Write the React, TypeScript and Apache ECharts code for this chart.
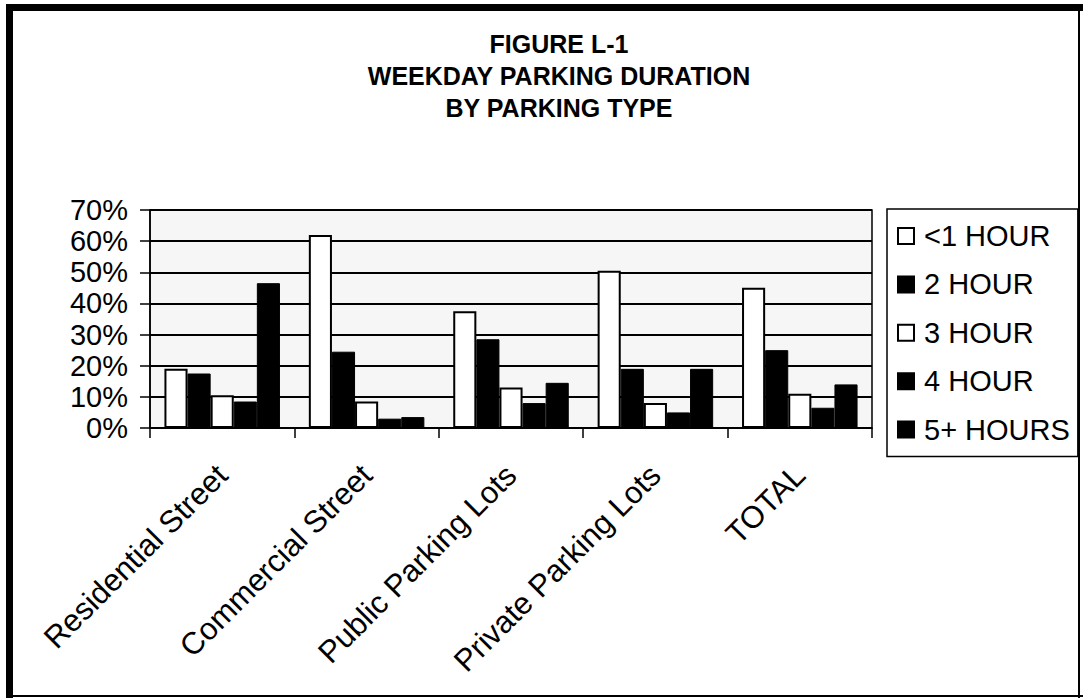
import React, { useEffect, useRef } from 'react';
import * as echarts from 'echarts';

const categories = ['Residential Street', 'Commercial Street', 'Public Parking Lots', 'Private Parking Lots', 'TOTAL'];
const seriesNames = ['<1 HOUR', '2 HOUR', '3 HOUR', '4 HOUR', '5+ HOURS'];
const lessThanOneHour = [19, 62, 37.5, 50.5, 45];
const twoHour = [17.5, 24.5, 28.5, 19, 25];
const threeHour = [10.5, 8.5, 13, 8, 11];
const fourHour = [8.5, 3, 8, 5, 6.5];
const fivePlusHours = [46.5, 3.5, 14.5, 19, 14];
const titleLines = ['FIGURE L-1', 'WEEKDAY PARKING DURATION', 'BY PARKING TYPE'];

const FONT = '"Liberation Sans", Arial, sans-serif';

export default function App() {
  const ref = useRef<HTMLDivElement>(null);
  useEffect(() => {
    if (!ref.current) return;
    const chart = echarts.init(ref.current, undefined, { renderer: 'svg' });
    const values = [lessThanOneHour, twoHour, threeHour, fourHour, fivePlusHours];
    const white = [true, false, true, false, false];
    chart.setOption({
      animation: false,
      backgroundColor: '#fff',
      textStyle: { fontFamily: FONT },
      title: {
        text: titleLines.join('\n'),
        left: 554,
        top: 23,
        textAlign: 'center',
        textStyle: { fontFamily: FONT, fontSize: 25, fontWeight: 'bold', color: '#000', lineHeight: 32 },
      },
      legend: {
        orient: 'vertical',
        left: 887,
        top: 209,
        padding: [12, 8, 12, 10],
        itemGap: 18.4,
        itemWidth: 16,
        itemHeight: 16,
        icon: 'rect',
        selectedMode: false,
        backgroundColor: '#fff',
        borderColor: '#000',
        borderWidth: 1.5,
        borderRadius: 0,
        textStyle: { fontFamily: FONT, fontSize: 29, color: '#000', lineHeight: 30, padding: [0, 0, 0, 5] },
        data: seriesNames,
      },
      grid: {
        left: 150,
        top: 210,
        right: 211,
        bottom: 270,
        show: true,
        backgroundColor: '#f6f6f6',
        borderColor: '#000',
        borderWidth: 1.5,
      },
      xAxis: {
        type: 'category',
        data: categories,
        axisLine: { show: true, lineStyle: { color: '#000', width: 1.5 } },
        axisTick: { show: true, length: 10, lineStyle: { color: '#000', width: 1.5 } },
        axisLabel: {
          rotate: 45,
          interval: 0,
          margin: 42,
          fontFamily: FONT,
          fontSize: 31,
          color: '#000',
        },
      },
      yAxis: {
        type: 'value',
        min: 0,
        max: 70,
        interval: 10,
        axisLine: { show: true, lineStyle: { color: '#000', width: 1.5 } },
        axisTick: { show: true, length: 10, lineStyle: { color: '#000', width: 1.5 } },
        axisLabel: { formatter: '{value}%', fontFamily: FONT, fontSize: 29, color: '#000', margin: 22 },
        splitLine: { show: true, lineStyle: { color: '#000', width: 1.8 } },
      },
      series: seriesNames.map((name, i) => ({
        name,
        type: 'bar',
        data: values[i],
        barGap: '0%',
        barCategoryGap: '20%',
        itemStyle: white[i]
          ? { color: '#fff', borderColor: '#000', borderWidth: 2 }
          : { color: '#000', borderColor: '#000', borderWidth: 1 },
      })),
      graphic: [
        { type: 'line', shape: { x1: 9.5, y1: 4, x2: 9.5, y2: 698 }, style: { stroke: '#000', lineWidth: 7 } },
        { type: 'line', shape: { x1: 6, y1: 7.5, x2: 1083, y2: 7.5 }, style: { stroke: '#000', lineWidth: 7 } },
        { type: 'line', shape: { x1: 1079, y1: 4, x2: 1079, y2: 698 }, style: { stroke: '#000', lineWidth: 2 } },
        { type: 'line', shape: { x1: 6, y1: 696, x2: 1083, y2: 696 }, style: { stroke: '#000', lineWidth: 2 } },
      ],
    });
    return () => chart.dispose();
  }, []);
  return <div ref={ref} style={{ position: 'fixed', left: 0, top: 0, width: 1083, height: 698 }} />;
}
